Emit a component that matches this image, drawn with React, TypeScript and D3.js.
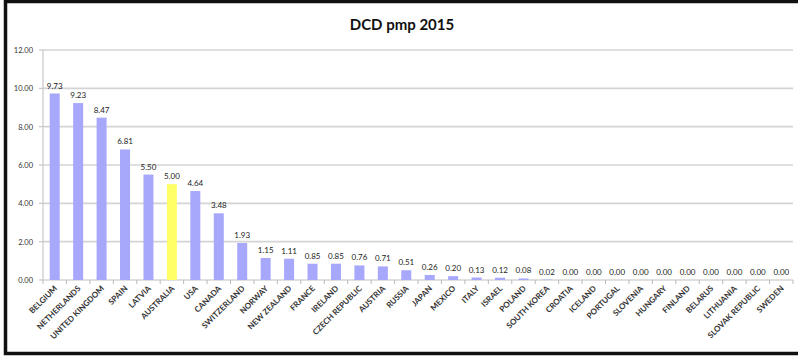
import React from "react";
import * as d3 from "d3";

// Deceased donation (DCD) per million population, 2015
const countries = [
  "BELGIUM", "NETHERLANDS", "UNITED KINGDOM", "SPAIN", "LATVIA", "AUSTRALIA",
  "USA", "CANADA", "SWITZERLAND", "NORWAY", "NEW ZEALAND", "FRANCE", "IRELAND",
  "CZECH REPUBLIC", "AUSTRIA", "RUSSIA", "JAPAN", "MEXICO", "ITALY", "ISRAEL",
  "POLAND", "SOUTH KOREA", "CROATIA", "ICELAND", "PORTUGAL", "SLOVENIA",
  "HUNGARY", "FINLAND", "BELARUS", "LITHUANIA", "SLOVAK REPUBLIC", "SWEDEN",
];
const dcdPmp = [
  9.73, 9.23, 8.47, 6.81, 5.5, 5.0, 4.64, 3.48, 1.93, 1.15, 1.11, 0.85, 0.85,
  0.76, 0.71, 0.51, 0.26, 0.2, 0.13, 0.12, 0.08, 0.02, 0, 0, 0, 0, 0, 0, 0, 0,
  0, 0,
];
const yTicks = [0, 2, 4, 6, 8, 10, 12];
const highlighted = "AUSTRALIA";

const W = 798;
const H = 356;
const FONT = "Lato, 'Open Sans', 'Liberation Sans', sans-serif";

export default function App() {
  const left = 43;
  const right = 793;
  const top = 50;
  const bottom = 280;

  const x = d3.scaleBand<string>().domain(countries).range([left, right]);
  const y = d3.scaleLinear().domain([0, 12]).range([bottom, top]);
  const barW = 10;

  const boundaries = d3.range(countries.length + 1).map((i) => left + i * x.step());

  return (
    <svg width={W} height={H} style={{ position: "absolute", left: 0, top: 0, background: "#fff" }}>
      <rect x={0} y={0} width={W} height={H} fill="#fff" />
      {/* frame */}
      <rect x={5.5} y={1.5} width={W + 10} height={352} fill="none" stroke="#111" strokeWidth={3.5} />

      <text x={402} y={30} textAnchor="middle" fontFamily={FONT} fontWeight={700} fontSize={15} fill="#111">
        DCD pmp 2015
      </text>

      {/* gridlines and y axis */}
      {yTicks.map((t) => (
        <g key={t}>
          <line x1={left} x2={right} y1={y(t)} y2={y(t)} stroke="#d4d4d4" strokeWidth={1.6} />
          <line x1={left - 4} x2={left} y1={y(t)} y2={y(t)} stroke="#bbb" strokeWidth={1} />
          <text x={33} y={y(t) + 3} textAnchor="end" fontFamily={FONT} fontSize={7.5} fill="#333">
            {d3.format(".2f")(t)}
          </text>
        </g>
      ))}
      <line x1={left} x2={left} y1={top} y2={bottom} stroke="#c8c8c8" strokeWidth={1.2} />

      {/* x-axis ticks between categories */}
      {boundaries.map((bx, i) => (
        <line key={i} x1={bx} x2={bx} y1={bottom} y2={bottom + 4} stroke="#bbb" strokeWidth={1} />
      ))}

      {/* bars, value labels and category labels */}
      {countries.map((c, i) => {
        const cx = (x(c) ?? 0) + x.bandwidth() / 2;
        const v = dcdPmp[i];
        return (
          <g key={c}>
            <rect
              x={cx - barW / 2}
              y={y(v)}
              width={barW}
              height={bottom - y(v)}
              fill={c === highlighted ? "#ffff66" : "#a7a7fb"}
            />
            <text x={cx} y={y(v) - 5} textAnchor="middle" fontFamily={FONT} fontSize={8} fill="#222">
              {d3.format(".2f")(v)}
            </text>
            <text
              transform={`translate(${cx + 3},${bottom + 9}) rotate(-45)`}
              textAnchor="end"
              fontFamily={FONT}
              fontWeight={700}
              fontSize={8}
              fill="#333"
            >
              {c}
            </text>
          </g>
        );
      })}
    </svg>
  );
}
